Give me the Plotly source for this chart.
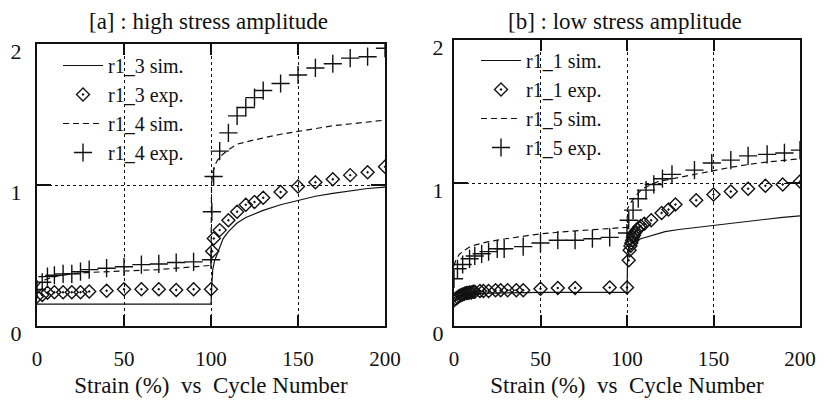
import plotly.graph_objects as go

# ---------------- data: panel [a] high stress amplitude ----------------
a_sim_cycles = [0, 2, 5, 10, 20, 30, 40, 50, 60, 70, 80, 90, 100,
                100.5, 101, 102, 104, 107, 110, 115, 120, 130, 140, 150, 160, 170, 180, 190, 200]
r1_3_sim = [0.155, 0.155, 0.155, 0.155, 0.155, 0.155, 0.155, 0.155, 0.155, 0.155, 0.155, 0.155, 0.155,
            0.30, 0.40, 0.46, 0.53, 0.62, 0.67, 0.73, 0.77, 0.82, 0.86, 0.89, 0.92, 0.94, 0.96, 0.975, 0.985]

a4_sim_cycles = [0, 2, 5, 10, 20, 30, 50, 70, 90, 100,
                 100.3, 101, 103, 105, 110, 115, 125, 140, 150, 170, 200]
r1_4_sim = [0.28, 0.31, 0.33, 0.35, 0.37, 0.38, 0.39, 0.40, 0.42, 0.43,
            1.0, 1.09, 1.16, 1.2, 1.25, 1.29, 1.32, 1.36, 1.38, 1.42, 1.46]

a3_exp_cycles = [0, 3, 6, 10, 15, 20, 25, 30, 40, 50, 60, 70, 80, 90, 100,
                 100.7, 101.6, 105, 110, 115, 120, 125, 130, 140, 150, 160, 170, 180, 190, 200]
r1_3_exp = [0.21, 0.22, 0.235, 0.24, 0.24, 0.24, 0.24, 0.245, 0.25, 0.26, 0.26, 0.26, 0.255, 0.26, 0.26,
            0.53, 0.62, 0.68, 0.75, 0.81, 0.86, 0.88, 0.91, 0.95, 0.99, 1.02, 1.04, 1.07, 1.09, 1.13]

a4_exp_cycles = [0, 3, 6, 10, 15, 20, 25, 30, 40, 50, 60, 70, 80, 90, 100,
                 100.5, 101.5, 105, 110, 115, 120, 125, 130, 140, 150, 160, 170, 180, 190, 200]
r1_4_exp = [0.26, 0.31, 0.35, 0.36, 0.37, 0.37, 0.385, 0.40, 0.41, 0.42, 0.435, 0.44, 0.45, 0.455, 0.47,
            0.81, 1.06, 1.24, 1.37, 1.49, 1.55, 1.62, 1.67, 1.72, 1.78, 1.83, 1.86, 1.90, 1.91, 1.97]

# ---------------- data: panel [b] low stress amplitude ----------------
b1_sim_cycles = [0, 2, 5, 10, 20, 50, 100,
                 100.3, 101, 103, 108, 115, 122, 130, 140, 150, 160, 170, 180, 190, 200]
r1_1_sim = [0.17, 0.19, 0.21, 0.225, 0.23, 0.235, 0.235,
            0.45, 0.55, 0.58, 0.61, 0.635, 0.66, 0.675, 0.69, 0.70, 0.715, 0.73, 0.745, 0.76, 0.77]

b5_sim_cycles = [0, 1, 3, 6, 10, 20, 30, 50, 70, 90, 100,
                 100.3, 102, 105, 109, 118, 130, 147, 160, 176, 200]
r1_5_sim = [0.42, 0.46, 0.50, 0.53, 0.56, 0.59, 0.61, 0.645, 0.665, 0.68, 0.69,
            0.82, 0.86, 0.91, 0.96, 1.01, 1.04, 1.08, 1.11, 1.14, 1.17]

b1_exp_cycles = [0, 1, 2, 3, 4, 5, 6, 7, 8, 9, 10, 11, 12, 15, 17, 20, 24, 27, 31, 36, 40, 50, 60, 70, 90, 100,
                 101, 101.5, 102, 102.5, 103, 103.5, 104, 104.5, 105, 106, 107, 108, 110, 114, 120, 124, 128,
                 140, 150, 160, 170, 180, 190, 200]
r1_1_exp = [0.18, 0.19, 0.2, 0.21, 0.215, 0.22, 0.225, 0.23, 0.23, 0.235, 0.235, 0.24, 0.24, 0.245, 0.245,
            0.245, 0.25, 0.25, 0.25, 0.25, 0.25, 0.26, 0.265, 0.265, 0.27, 0.27,
            0.46, 0.53, 0.56, 0.58, 0.60, 0.62, 0.635, 0.65, 0.66, 0.675, 0.69, 0.70, 0.715, 0.74, 0.79, 0.815,
            0.85, 0.88, 0.92, 0.94, 0.96, 0.98, 0.99, 1.01]

b5_exp_cycles = [0, 2, 5, 9, 12, 16, 20, 25, 29, 40, 50, 60, 70, 80, 90, 100,
                 101, 103.5, 106.5, 111, 115.5, 120.5, 126, 139, 149, 160, 170, 181, 191, 200]
r1_5_exp = [0.33, 0.40, 0.43, 0.47, 0.49, 0.505, 0.52, 0.54, 0.54, 0.555, 0.58, 0.60, 0.60, 0.61, 0.62, 0.65,
            0.74, 0.81, 0.89, 0.95, 0.99, 1.03, 1.06, 1.09, 1.14, 1.16, 1.19, 1.20, 1.21, 1.23]

x_ticks = [0, 50, 100, 150, 200]
y_ticks = [0, 1, 2]
titles = ["[a] : high stress amplitude", "[b] : low stress amplitude"]
x_title = "Strain (%)  vs  Cycle Number"

FONT = "Liberation Serif"
INK = "#111111"
OFF = 8  # page body margin
W, H = 825 - 2 * OFF, 402 - OFF

fig = go.Figure()

def line(x, y, name, dash, xa, ya, leg):
    fig.add_trace(go.Scatter(x=x, y=y, name=name, mode="lines", xaxis=xa, yaxis=ya, legend=leg,
                             line=dict(color=INK, width=1.2, dash=dash)))

def pts(x, y, name, sym, size, xa, ya, leg):
    fig.add_trace(go.Scatter(x=x, y=y, name=name, mode="markers", xaxis=xa, yaxis=ya, legend=leg,
                             marker=dict(symbol=sym, size=size, color=INK, line=dict(color=INK, width=1.4))))

line(a_sim_cycles, r1_3_sim, "r1_3 sim.", "solid", "x", "y", "legend")
pts(a3_exp_cycles, r1_3_exp, "r1_3 exp.", "diamond-open-dot", 10, "x", "y", "legend")
line(a4_sim_cycles, r1_4_sim, "r1_4 sim.", "6px,4px", "x", "y", "legend")
pts(a4_exp_cycles, r1_4_exp, "r1_4 exp.", "cross-thin-open", 13, "x", "y", "legend")

line(b1_sim_cycles, r1_1_sim, "r1_1 sim.", "solid", "x2", "y2", "legend2")
pts(b1_exp_cycles, r1_1_exp, "r1_1 exp.", "diamond-open-dot", 10, "x2", "y2", "legend2")
line(b5_sim_cycles, r1_5_sim, "r1_5 sim.", "6px,4px", "x2", "y2", "legend2")
pts(b5_exp_cycles, r1_5_exp, "r1_5 exp.", "cross-thin-open", 13, "x2", "y2", "legend2")

def px_x(p):
    return (p - OFF) / W

def px_y(p):
    return 1 - (p - OFF) / H

xax = dict(range=[0, 200], tickvals=x_ticks, ticks="inside", ticklen=11, tickwidth=2, tickcolor=INK,
           showline=True, linewidth=2, linecolor=INK, mirror="ticks", automargin=False,
           showgrid=True, gridcolor=INK, gridwidth=1, griddash="dot", zeroline=False,
           tickfont=dict(family=FONT, size=21, color=INK), ticklabelstandoff=13,
           title=dict(text=x_title, font=dict(family=FONT, size=23, color=INK), standoff=7))
yax = dict(range=[0, 2], tickvals=y_ticks, ticks="inside", ticklen=14, tickwidth=2, tickcolor=INK,
           showline=True, linewidth=2, linecolor=INK, mirror="ticks", automargin=False,
           showgrid=True, gridcolor=INK, gridwidth=1, griddash="dot", zeroline=False,
           tickfont=dict(family=FONT, size=22, color=INK), ticklabelshift=7)

fig.update_layout(
    width=W, height=H, autosize=False, margin=dict(l=0, r=0, t=0, b=0, autoexpand=False),
    paper_bgcolor="white", plot_bgcolor="white",
    font=dict(family=FONT, size=22, color=INK),
    xaxis=dict(xax, domain=[px_x(37), px_x(385)], anchor="y"),
    yaxis=dict(yax, domain=[px_y(326), px_y(44)], anchor="x", ticklabelstandoff=9),
    xaxis2=dict(xax, domain=[px_x(454), px_x(800)], anchor="y2"),
    yaxis2=dict(yax, domain=[px_y(326), px_y(40)], anchor="x2", ticklabelstandoff=4),
    legend=dict(x=px_x(58), y=px_y(46), xanchor="left", yanchor="top", bgcolor="rgba(0,0,0,0)",
                font=dict(family=FONT, size=20, color=INK), tracegroupgap=0, itemwidth=40),
    legend2=dict(x=px_x(476), y=px_y(41), xanchor="left", yanchor="top", bgcolor="rgba(0,0,0,0)",
                 font=dict(family=FONT, size=20, color=INK), tracegroupgap=0, itemwidth=40),
    showlegend=True,
    annotations=[
        dict(text=titles[0], x=px_x(208), y=px_y(21), xref="paper", yref="paper", showarrow=False,
             xanchor="center", yanchor="middle", font=dict(family=FONT, size=23, color=INK)),
        dict(text=titles[1], x=px_x(625), y=px_y(21), xref="paper", yref="paper", showarrow=False,
             xanchor="center", yanchor="middle", font=dict(family=FONT, size=23, color=INK)),
    ],
)

fig.write_html("out.html")
